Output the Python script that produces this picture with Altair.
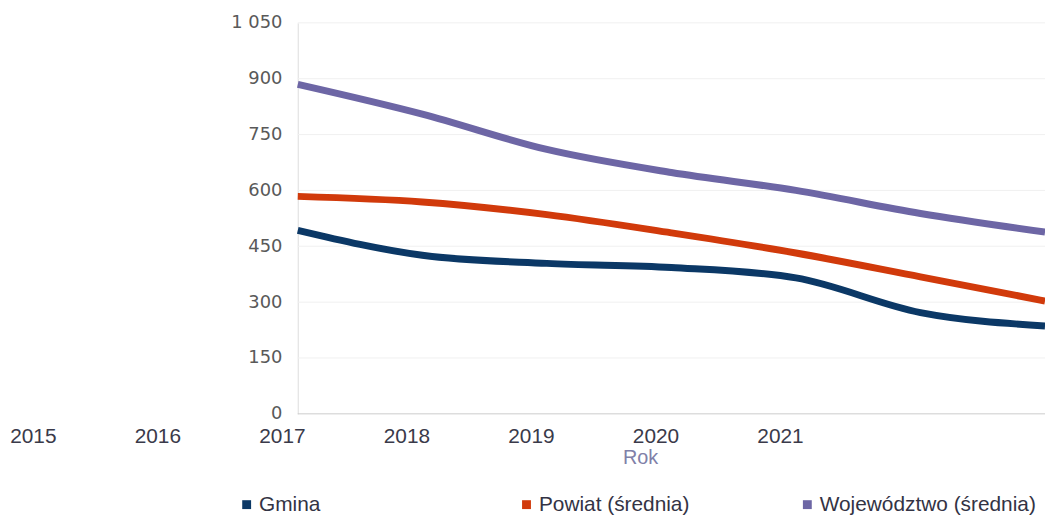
import altair as alt
import pandas as pd

# data
point_years = [2017, 2018, 2019, 2020, 2021, 2022, 2023]
axis_years = [2015, 2016, 2017, 2018, 2019, 2020, 2021]
y_ticks = [0, 150, 300, 450, 600, 750, 900, 1050]
series_names = ["Gmina", "Powiat (średnia)", "Województwo (średnia)"]
gmina = [493, 426, 404, 393, 365, 272, 236]
powiat = [584, 569, 535, 486, 432, 368, 303]
wojewodztwo = [885, 805, 710, 648, 600, 538, 488]
colors = ["#0b3866", "#d13a0b", "#6d66a5"]
legend_x = [-62, 220, 503]

values = [gmina, powiat, wojewodztwo]

rows = []
for name, vals in zip(series_names, values):
    for yr, v in zip(point_years, vals):
        rows.append({"Rok": yr, "Wartość": v, "Seria": name})
df = pd.DataFrame(rows)
grid_df = pd.DataFrame({"Wartość": y_ticks[1:]})
zero_df = pd.DataFrame({"Wartość": y_ticks[:1]})

W = 753
H = 394
step = W / (len(point_years) - 1)
x_range_start = -(point_years[0] - axis_years[0]) * step

y_scale = alt.Scale(domain=[y_ticks[0], y_ticks[-1]], nice=False)

x_enc = alt.X(
    "Rok:Q",
    scale=alt.Scale(domain=[axis_years[0], point_years[-1]], range=[x_range_start, W],
                    nice=False, zero=False),
    axis=alt.Axis(
        values=axis_years,
        format="d",
        labelOffset=-16,
        labelFlush=False,
        labelOverlap=False,
        labelBound=False,
        ticks=False,
        tickSize=0,
        grid=False,
        domain=False,
        labelFont="Liberation Sans",
        labelFontSize=21,
        labelColor="#3a3a4a",
        labelPadding=12,
        title="Rok",
        titleFont="Liberation Sans",
        titleFontSize=20,
        titleFontWeight="normal",
        titleColor="#8080a8",
        titlePadding=1,
        titleX=345,
    ),
)

y_enc = alt.Y(
    "Wartość:Q",
    scale=y_scale,
    axis=alt.Axis(
        values=y_ticks,
        labelExpr="replace(format(datum.value, ','), ',', ' ')",
        ticks=False,
        tickSize=0,
        grid=False,
        domainColor="#dddddd",
        labelFont="DejaVu Sans",
        labelFontSize=18,
        labelColor="#595959",
        labelPadding=16,
        title=None,
    ),
)

grid_lines = alt.Chart(grid_df).mark_rule(color="#f0f0f0", strokeWidth=1).encode(y=y_enc)
zero_line = alt.Chart(zero_df).mark_rule(color="#cccccc", strokeWidth=1).encode(y=y_enc)

layers = [grid_lines, zero_line]
for name, col, lx in zip(series_names, colors, legend_x):
    layer = (
        alt.Chart(df)
        .transform_filter(alt.datum.Seria == name)
        .mark_line(strokeWidth=7, interpolate="monotone")
        .encode(
            x=x_enc,
            y=y_enc,
            color=alt.Color(
                "Seria:N",
                scale=alt.Scale(domain=[name], range=[col]),
                legend=alt.Legend(
                    title=None,
                    orient="none",
                    legendX=lx,
                    legendY=475,
                    padding=0,
                    symbolType="square",
                    symbolSize=80,
                    symbolFillColor=col,
                    symbolStrokeWidth=0,
                    symbolOpacity=1,
                    labelFont="Liberation Sans",
                    labelFontSize=21,
                    labelColor="#333344",
                    labelOffset=2,
                    labelLimit=400,
                ),
            ),
        )
    )
    layers.append(layer)

chart = (
    alt.layer(*layers)
    .resolve_scale(color="independent")
    .resolve_legend(color="independent")
    .properties(
        width=W,
        height=H,
        autosize=alt.AutoSizeParams(type="none"),
        padding={"left": 292, "top": 13, "right": 0, "bottom": 104},
        background="white",
    )
    .configure_view(stroke=None)
)

chart.save("out.html", embed_options={"renderer": "svg", "actions": False})
